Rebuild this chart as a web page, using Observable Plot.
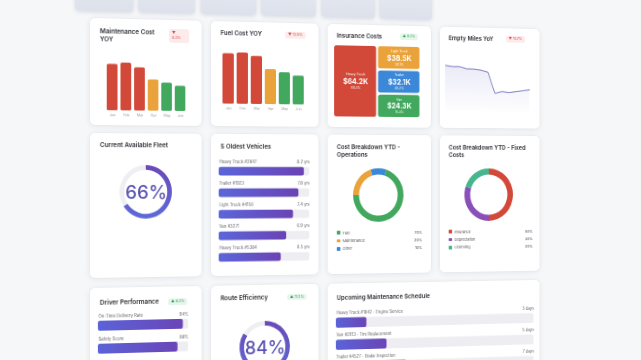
<!DOCTYPE html>
<html><head><meta charset="utf-8">
<script src="https://cdn.jsdelivr.net/npm/d3@7"></script>
<script src="https://cdn.jsdelivr.net/npm/@observablehq/plot@0.6"></script>
<style>
html,body{margin:0;padding:0;width:641px;height:360px;overflow:hidden;background:#f6f7f9;font-family:Inter,"Noto Sans",sans-serif;}
#stage{position:absolute;left:90px;top:0;width:490px;height:440px;transform-origin:0 175px;transform:perspective(1000px) rotateY(9deg);}
.card{position:absolute;background:#fff;border-radius:5px;box-shadow:0 1px 6px rgba(30,40,70,.09),0 0 0 .5px rgba(30,40,70,.04);}
.kpi{position:absolute;border-radius:4px;background:linear-gradient(180deg,#eef0f5,#dce1eb);box-shadow:0 1px 4px rgba(30,40,70,.14);}
.t{position:absolute;white-space:pre-line;}
</style></head>
<body><div id="stage"></div>
<script>
// ---------- data ----------
const months = ["Jan","Feb","Mar","Apr","May","Jun"];
const costTier = ["high","high","high","mid","low","low"];
const maintenanceCost = [46.5, 48.0, 43.5, 31.5, 28.5, 25.5];
const fuelCost = [51.4, 52.4, 49.3, 36.0, 32.9, 29.8];
const insuranceTypes = ["Heavy Truck","Light Truck","Trailer","Van"];
const insuranceCost = [64.2, 38.5, 32.1, 24.3];
const insuranceShare = [40.3, 24.1, 20.2, 15.3];
const emptyMiles = [48.6, 47.5, 47.6, 45.4, 45.3, 44.3, 42.2, 19.7, 21.8, 20.8, 21.8, 22.9, 24.0];
const fleetAvailable = 66;
const vehicles = ["Heavy Truck #2847","Trailer #1923","Light Truck #4156","Van #3271","Heavy Truck #5384"];
const vehicleAge = [8.2, 7.8, 7.4, 6.9, 6.5];
const opsCategories = ["Fuel","Maintenance","Other"];
const opsShare = [70, 20, 10];
const fixedCategories = ["Insurance","Depreciation","Licensing"];
const fixedShare = [50, 30, 20];
const driverMetrics = ["On-Time Delivery Rate","Safety Score"];
const driverScores = [94, 88];
const routeEfficiency = 84;
const maintenanceTasks = ["Heavy Truck #1842 - Engine Service","Van #2913 - Tire Replacement","Trailer #4527 - Brake Inspection"];
const daysUntil = [3, 5, 7];
const maintenanceDelta = -8.3, fuelDelta = -12.5, insuranceDelta = 8.2, emptyMilesDelta = -15.7, driverDelta = 6.2, routeDelta = 11.2;

// ---------- helpers ----------
const stage = document.getElementById("stage");
const RED="#d2493a", ORANGE="#eaa23a", GREEN="#41a85e", BLUE="#3b88d8", PURPLE="#8a4fb8", TEAL="#46b68c";
const baseStyle = {fontFamily:"Inter, sans-serif", fontSize:"3.6px", color:"#9a9a9a", background:"transparent", overflow:"visible"};
const turn = Plot.scale({x:{domain:[0,100], range:[0, 2*Math.PI]}});
let gid = 0;
function gradient(stops, vertical){
  const id = "grad" + (gid++);
  const mark = () => {
    const ns = "http://www.w3.org/2000/svg";
    const defs = document.createElementNS(ns,"defs");
    const lg = document.createElementNS(ns,"linearGradient");
    lg.setAttribute("id", id);
    lg.setAttribute("x1","0"); lg.setAttribute("y1","0");
    lg.setAttribute("x2", vertical ? "0" : "1"); lg.setAttribute("y2", vertical ? "1" : "0");
    stops.forEach(([o,c]) => { const s = document.createElementNS(ns,"stop"); s.setAttribute("offset",o); s.setAttribute("stop-color",c); lg.appendChild(s); });
    defs.appendChild(lg);
    return defs;
  };
  return {id, url:`url(#${id})`, mark};
}
function arcMark(slices, inner, outer, corner){
  return (index, scales, values, dims) => {
    const g = d3.create("svg:g").attr("transform", `translate(${dims.width/2},${dims.height/2})`);
    const arc = d3.arc().innerRadius(inner).outerRadius(outer).cornerRadius(corner || 0);
    for (const s of slices) g.append("path").attr("d", arc(s)).attr("fill", s.fill);
    return g.node();
  };
}
function card(x,y,w,h){ const d=document.createElement("div"); d.className="card"; Object.assign(d.style,{left:x+"px",top:y+"px",width:w+"px",height:h+"px"}); stage.appendChild(d); return d; }
function text(parent,str,x,y,style){ const d=document.createElement("div"); d.className="t"; d.textContent=str; d.style.left=x+"px"; d.style.top=y+"px"; Object.assign(d.style,style||{}); parent.appendChild(d); return d; }
function title(c,str,y,w){ return text(c,str,10,y,{fontSize:"6.4px",fontWeight:"600",color:"#2f3036",lineHeight:"8px",width:(w||97)+"px"}); }
function badge(c,delta,x,y,wrap){
  const up = delta > 0;
  const s = (up ? "▲" : "▼") + (wrap ? "\n" : " ") + Math.abs(delta).toFixed(1) + "%";
  return text(c,s,x,y,{fontSize:"3.8px",lineHeight:"4.6px",padding:wrap?"2.2px 9px 2.2px 3px":"1.1px 3px",borderRadius:"2.5px",
    background: up ? "#e7f6ec" : "#fdeaea", color: up ? "#2e9e57" : "#d64545"});
}
function place(c,node,x,y){ node.style.position="absolute"; node.style.left=x+"px"; node.style.top=y+"px"; c.appendChild(node); return node; }

function monthlyBars(values, yMax, width, height, ml, mr){
  const data = months.map((m,i)=>({month:m, value:values[i], tier:costTier[i]}));
  return Plot.plot({width, height, marginTop:0, marginBottom:8, marginLeft:ml, marginRight:mr, style:baseStyle,
    x:{domain:months, padding:0.18, tickSize:0, tickPadding:2.5, label:null},
    y:{domain:[0,yMax], axis:null},
    color:{domain:["high","mid","low"], range:[RED,ORANGE,GREEN]},
    marks:[Plot.barY(data,{x:"month", y:"value", fill:"tier", rx:1.5})]});
}
function gauge(value){
  const g = gradient([["0%","#6b49b8"],["100%","#5c6ad8"]], true);
  return Plot.plot({width:62, height:62, margin:0, style:baseStyle,
    marks:[g.mark,
      arcMark([{startAngle:0,endAngle:2*Math.PI,fill:"#efeff3"},{startAngle:0,endAngle:turn.apply(value),fill:g.url}], 22.2, 27, 0),
      Plot.text([value],{frameAnchor:"middle", text:d=>d+"%", fontSize:19, fontWeight:500, fill:"#5a53b3"})]});
}
function donut(shares, colors, offset){
  let acc = offset || 0;
  const slices = shares.map((s,i)=>{ const a0 = turn.apply(acc); acc += s; return {startAngle:a0, endAngle:turn.apply(acc), fill:colors[i]}; });
  return Plot.plot({width:62, height:62, margin:0, style:baseStyle, marks:[arcMark(slices, 21.5, 28, 0)]});
}
function legend(c, cats, shares, colors, top, right){
  cats.forEach((cat,i)=>{
    const y = top + i*8.4;
    const sw = document.createElement("div");
    Object.assign(sw.style,{position:"absolute",left:"10px",top:(y-1.8)+"px",width:"3.6px",height:"3.6px",borderRadius:"0.8px",background:colors[i]});
    c.appendChild(sw);
    text(c,cat,16.5,y-2.5,{fontSize:"4px",lineHeight:"5px",color:"#5a5a60"});
    text(c,shares[i]+"%",0,y-2.5,{fontSize:"4px",lineHeight:"5px",color:"#3a3a40",left:"auto",right:right+"px"});
  });
}
function barList(labels, values, opts){
  const {width, band, lo, hi, insetTop, insetBottom, labelDy, fmt, stops} = opts;
  const data = labels.map((l,i)=>({label:l, v:values[i]}));
  const g = gradient(stops, false);
  return Plot.plot({width, height:band*labels.length, margin:0, style:baseStyle,
    x:{domain:[lo,hi], axis:null}, y:{domain:labels, axis:null, padding:0},
    marks:[g.mark,
      Plot.barX(data,{x1:()=>lo, x2:()=>hi, y:"label", fill:"#eeeef2", insetTop, insetBottom, rx:2}),
      Plot.barX(data,{x1:()=>lo, x2:"v", y:"label", fill:g.url, insetTop, insetBottom, rx:2}),
      Plot.text(data,{y:"label", frameAnchor:"left", textAnchor:"start", text:"label", dy:labelDy, fontSize:4.3, fill:"#66666c"}),
      Plot.text(data,{y:"label", frameAnchor:"right", textAnchor:"end", text:d=>fmt(d.v), dy:labelDy, fontSize:4.3, fill:"#66666c"})]});
}

// ---------- top KPI strip (partially visible) ----------
for (let i=0;i<6;i++){ const k=document.createElement("div"); k.className="kpi"; Object.assign(k.style,{left:(-15+i*64.4)+"px",top:"-45px",width:"59px",height:"56px"}); stage.appendChild(k); }

// ---------- row 1 ----------
const c1 = card(0,18,115,107);
title(c1,"Maintenance Cost YOY",9,60);
badge(c1,maintenanceDelta,81,9,true);
place(c1, monthlyBars(maintenanceCost, 52, 95, 60, 1.3, 1.3), 10, 40);

const c2 = card(125,18,115,107);
title(c2,"Fuel Cost YOY",8);
badge(c2,fuelDelta,79,9,false);
place(c2, monthlyBars(fuelCost, 57, 96, 65, 0.8, 1.5), 8, 27);

const c3 = card(250,18,115,107);
title(c3,"Insurance Costs",7.5);
badge(c3,insuranceDelta,80,8,false);
(function(){
  const cells = insuranceTypes.map((t,i)=>({type:t, cost:insuranceCost[i], share:insuranceShare[i], col:i===0?0:1, r0:i===0?0:i-1, r1:i===0?3:i}));
  const cx = d=>d.col+0.5, cy = d=>(d.r0+d.r1)/2;
  place(c3, Plot.plot({width:97, height:76, margin:0, style:baseStyle,
    x:{domain:[0,2], axis:null}, y:{domain:[0,3], reverse:true, axis:null},
    color:{domain:insuranceTypes, range:[RED,ORANGE,BLUE,GREEN]},
    marks:[
      Plot.rect(cells,{x1:"col", x2:d=>d.col+1, y1:"r0", y2:"r1", fill:"type", inset:1.1, rx:2.5}),
      Plot.text(cells,{x:cx, y:cy, text:"type", dy:-7.2, fill:"white", fontSize:3.6}),
      Plot.text(cells,{x:cx, y:cy, text:d=>"$"+d.cost.toFixed(1)+"K", fill:"white", fontSize:7.6, fontWeight:700}),
      Plot.text(cells,{x:cx, y:cy, text:d=>d.share.toFixed(1)+"%", dy:6.4, fill:"white", fontSize:3.4})]}), 6, 21);
})();

const c4 = card(375,18,115,107);
title(c4,"Empty Miles YoY",7.5);
badge(c4,emptyMilesDelta,76,8,false);
(function(){
  const pts = emptyMiles.map((v,i)=>({i,v}));
  const g = gradient([["0%","rgba(110,110,205,0.14)"],["100%","rgba(110,110,205,0.01)"]], true);
  place(c4, Plot.plot({width:97, height:60, margin:0, style:baseStyle,
    x:{domain:[0,emptyMiles.length-1], axis:null}, y:{domain:[0,60], axis:null},
    marks:[g.mark, Plot.areaY(pts,{x:"i", y:"v", fill:g.url}), Plot.lineY(pts,{x:"i", y:"v", stroke:"#6a6db5", strokeWidth:0.9})]}), 6, 29);
})();

// ---------- row 2 ----------
const c5 = card(0,133,115,145);
title(c5,"Current Available Fleet",8);
place(c5, gauge(fleetAvailable), 26, 28);

const c6 = card(125,133,115,145);
title(c6,"5 Oldest Vehicles",9);
place(c6, barList(vehicles, vehicleAge, {width:97, band:22.6, lo:2, hi:8.6, insetTop:9.7, insetBottom:3.6, labelDy:-6.7, fmt:v=>v.toFixed(1)+" yrs", stops:[["0%","#5b66d9"],["100%","#6a43b4"]]}), 8, 22);

const c7 = card(250,133,115,145);
title(c7,"Cost Breakdown YTD - Operations",8.5,97);
place(c7, donut(opsShare,[GREEN,ORANGE,BLUE],5), 25, 32);
legend(c7, opsCategories, opsShare, [GREEN,ORANGE,BLUE], 102, 10);

const c8 = card(375,133,115,145);
title(c8,"Cost Breakdown YTD - Fixed Costs",8.5,97);
place(c8, donut(fixedShare,[RED,PURPLE,TEAL],0), 25, 32);
legend(c8, fixedCategories, fixedShare, [RED,PURPLE,TEAL], 102, 8);

// ---------- row 3 ----------
const c9 = card(0,288,115,140);
title(c9,"Driver Performance",11);
badge(c9,driverDelta,80,12,false);
place(c9, barList(driverMetrics, driverScores, {width:93, band:23, lo:0, hi:100, insetTop:10, insetBottom:3, labelDy:-6.5, fmt:v=>v+"%", stops:[["0%","#5b63d8"],["100%","#6a45b6"]]}), 8, 23);

const c10 = card(125,288,115,140);
title(c10,"Route Efficiency",9);
badge(c10,routeDelta,81,9.5,false);
place(c10, gauge(routeEfficiency), 26, 33);

const c11 = card(250,288,240,140);
title(c11,"Upcoming Maintenance Schedule",11,200);
place(c11, barList(maintenanceTasks, daysUntil, {width:224, band:23, lo:0, hi:20, insetTop:10.6, insetBottom:2, labelDy:-6.3, fmt:v=>v+" days", stops:[["0%","#5b63d8"],["100%","#6a45b6"]]}), 9, 25);
</script>
</body></html>
